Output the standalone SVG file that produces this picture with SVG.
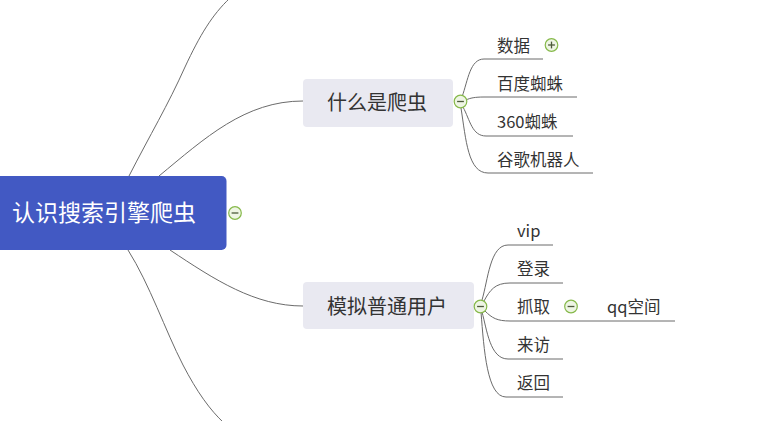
<svg xmlns="http://www.w3.org/2000/svg" width="774" height="421" viewBox="0 0 774 421">
<defs>
<style>
.ln{fill:none;stroke:#6b6b6b;stroke-width:1}
.t{font-family:"Noto Sans CJK SC","Liberation Sans",sans-serif;fill:#333333}
.sub{font-size:20px}
.leaf{font-size:16.5px}
.root{font-family:"Noto Sans CJK SC","Liberation Sans",sans-serif;font-size:23px;fill:#ffffff}
.ic{fill:#eef5e4;stroke:#86b94a;stroke-width:1.2}
.icl{stroke:#4d5a3a;stroke-width:1.3}
</style>
<g id="minus"><circle class="ic" cx="0" cy="0" r="6.3"/><line class="icl" x1="-3.4" y1="0" x2="3.4" y2="0"/></g>
<g id="plus"><circle class="ic" cx="0" cy="0" r="6.3"/><line class="icl" x1="-3.4" y1="0" x2="3.4" y2="0"/><line class="icl" x1="0" y1="-3.4" x2="0" y2="3.4"/></g>
</defs>
<rect width="774" height="421" fill="#ffffff"/>
<g id="connectors">
<path class="ln" d="M129,176 C150,135 168,105 185,67 C200,35 212,15 230,-2"/>
<path class="ln" d="M159,176 C205,138 245,101 303,101"/>
<path class="ln" d="M170,250 C215,280 255,306 303,306"/>
<path class="ln" d="M128,250 C150,285 165,330 183,365 C197,392 210,410 224,423"/>
<path class="ln" d="M462,97 C468,80 470,59 484,59 L543,59"/>
<path class="ln" d="M466,100 C470,98 475,97 484,97 L577,97"/>
<path class="ln" d="M463,107 C470,120 472,136 486,136 L573,136"/>
<path class="ln" d="M461,108 C466,140 468,173 488,173 L593,173"/>
<path class="ln" d="M482,300 C488,280 490,245 508,245 L553,245"/>
<path class="ln" d="M484,301 C490,290 495,283 510,283 L563,283"/>
<path class="ln" d="M485,311 C492,318 497,321 510,321 L675,321"/>
<path class="ln" d="M482,312 C487,330 490,359 508,359 L563,359"/>
<path class="ln" d="M481,312 C484,350 487,397 506,397 L563,397"/>
</g>
<g id="root">
<rect x="-10" y="176" width="236.5" height="74" rx="5" fill="#4259c3"/>
<text class="root" x="12" y="221">认识搜索引擎爬虫</text>
<use href="#minus" x="235" y="213"/>
</g>
<g id="n-what">
<rect x="303" y="79" width="150" height="48" rx="4" fill="#e9e9f1"/>
<text class="t sub" x="327" y="110">什么是爬虫</text>
<use href="#minus" x="460.5" y="101.5"/>
</g>
<g id="n-data"><text class="t leaf" x="497" y="52">数据</text><use href="#plus" x="551.5" y="45"/></g>
<g id="n-baidu"><text class="t leaf" x="497" y="90">百度蜘蛛</text></g>
<g id="n-360"><text class="t leaf" x="497" y="128">360蜘蛛</text></g>
<g id="n-google"><text class="t leaf" x="497" y="166">谷歌机器人</text></g>
<g id="n-user">
<rect x="303" y="282" width="171" height="47" rx="4" fill="#e9e9f1"/>
<text class="t sub" x="327" y="314">模拟普通用户</text>
<use href="#minus" x="480.5" y="306.5"/>
</g>
<g id="n-vip"><text class="t leaf" x="517" y="237">vip</text></g>
<g id="n-login"><text class="t leaf" x="517" y="275">登录</text></g>
<g id="n-grab"><text class="t leaf" x="517" y="313">抓取</text><use href="#minus" x="571" y="306.5"/></g>
<g id="n-qq"><text class="t leaf" x="607" y="313">qq空间</text></g>
<g id="n-visit"><text class="t leaf" x="517" y="351">来访</text></g>
<g id="n-back"><text class="t leaf" x="517" y="389">返回</text></g>
</svg>
